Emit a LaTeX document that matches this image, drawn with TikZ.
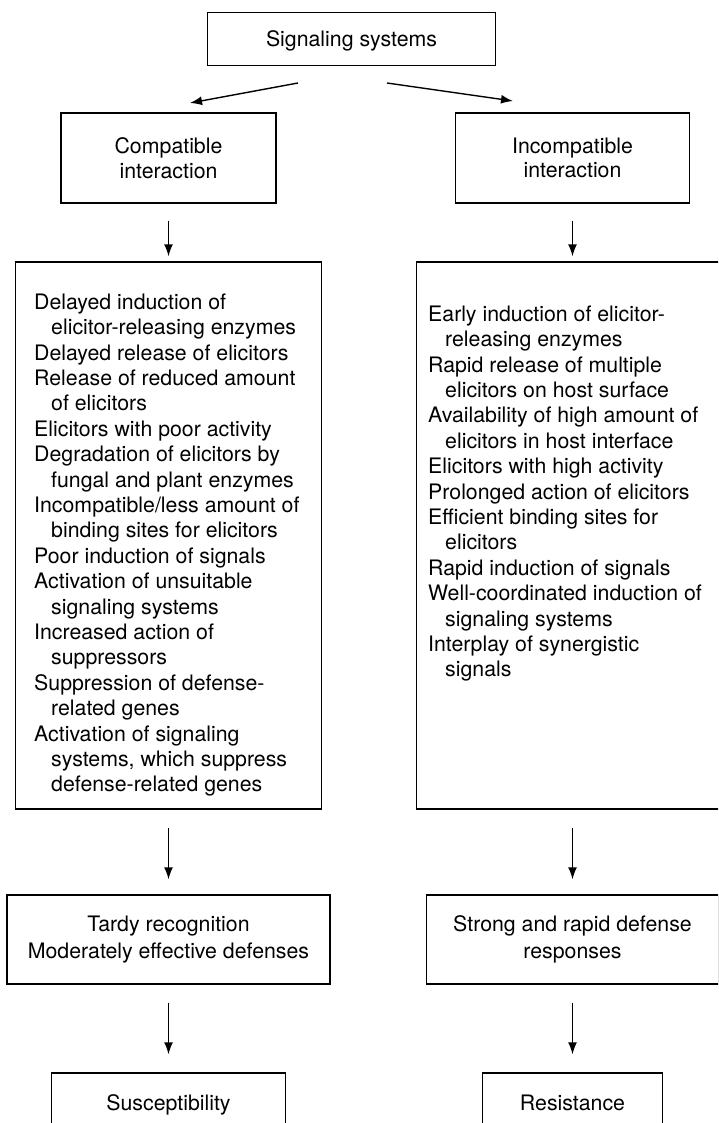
\documentclass[tikz,border=0pt]{standalone}
\usepackage{fontspec}
\setmainfont{TeX Gyre Heros}
\usetikzlibrary{arrows.meta,calc}
\begin{document}
\begin{tikzpicture}[x=1pt,y=-1pt,
  box/.style={draw, line width=1.4pt, inner sep=0pt, align=center,
    font=\fontsize{21.3}{24.5}\selectfont},
  oneline/.style={text height=15.3pt, text depth=0pt},
  wide/.style={font=\fontsize{21.3}{26.5}\selectfont},
  arr/.style={line width=1.4pt, -{Latex[length=12pt,width=9pt]}},
  lst/.style={inner sep=0pt, align=left, anchor=north west,
    font=\fontsize{21.3}{25.4}\selectfont}]
\useasboundingbox (0,0) rectangle (718,1123);
\clip (0,0) rectangle (718,1123);

\node[box, oneline, minimum width=288pt, minimum height=53pt] (top) at (351.5,39) {Signaling systems};
\node[box, minimum width=215pt, minimum height=90pt] (comp) at (168.5,158) {Compatible\\interaction};
\node[box, minimum width=234pt, minimum height=90pt] (inc) at (572.5,158) {Incompatible\\interaction};
\node[box, minimum width=306pt, minimum height=547pt] (lbox) at (168.5,535.5) {};
\node[box, minimum width=312pt, minimum height=547pt] (rbox) at (572.5,535.5) {};
\node[box, wide, minimum width=323pt, minimum height=89pt] (tardy) at (168.5,939.5) {Tardy recognition\\Moderately effective defenses};
\node[box, wide, minimum width=292pt, minimum height=89pt] (strong) at (572.5,939.5) {Strong and rapid defense\\responses};
\node[box, oneline, minimum width=234pt, minimum height=60pt] (susc) at (168.5,1103) {Susceptibility};
\node[box, oneline, minimum width=180pt, minimum height=60pt] (res) at (572.5,1103) {Resistance};

\node[lst] (ltext) at (34,293.5) {Delayed induction of\\
\hspace*{17pt}elicitor-releasing enzymes\\
Delayed release of elicitors\\
Release of reduced amount\\
\hspace*{17pt}of elicitors\\
Elicitors with poor activity\\
Degradation of elicitors by\\
\hspace*{17pt}fungal and plant enzymes\\
Incompatible/less amount of\\
\hspace*{17pt}binding sites for elicitors\\
Poor induction of signals\\
Activation of unsuitable\\
\hspace*{17pt}signaling systems\\
Increased action of\\
\hspace*{17pt}suppressors\\
Suppression of defense-\\
\hspace*{17pt}related genes\\
Activation of signaling\\
\hspace*{17pt}systems, which suppress\\
\hspace*{17pt}defense-related genes};

\node[lst] (rtext) at (428,305.5) {Early induction of elicitor-\\
\hspace*{17pt}releasing enzymes\\
Rapid release of multiple\\
\hspace*{17pt}elicitors on host surface\\
Availability of high amount of\\
\hspace*{17pt}elicitors in host interface\\
Elicitors with high activity\\
Prolonged action of elicitors\\
Efficient binding sites for\\
\hspace*{17pt}elicitors\\
Rapid induction of signals\\
Well-coordinated induction of\\
\hspace*{17pt}signaling systems\\
Interplay of synergistic\\
\hspace*{17pt}signals};

\coordinate (t1) at (298,83);
\coordinate (t1e) at (190,103);
\coordinate (t2) at (387,83);
\coordinate (t2e) at (513,101);
\draw[arr] (t1) -- (t1e);
\draw[arr] (t2) -- (t2e);

\draw[arr, shorten <=17pt, shorten >=5pt] (comp.south) -- (comp.south |- lbox.north);
\draw[arr, shorten <=17pt, shorten >=5pt] (inc.south) -- (inc.south |- rbox.north);
\draw[arr, shorten <=18pt, shorten >=15pt] (lbox.south) -- (lbox.south |- tardy.north);
\draw[arr, shorten <=18pt, shorten >=15pt] (rbox.south) -- (rbox.south |- strong.north);
\draw[arr, shorten <=18pt, shorten >=18pt] (tardy.south) -- (tardy.south |- susc.north);
\draw[arr, shorten <=18pt, shorten >=18pt] (strong.south) -- (strong.south |- res.north);
\end{tikzpicture}
\end{document}
